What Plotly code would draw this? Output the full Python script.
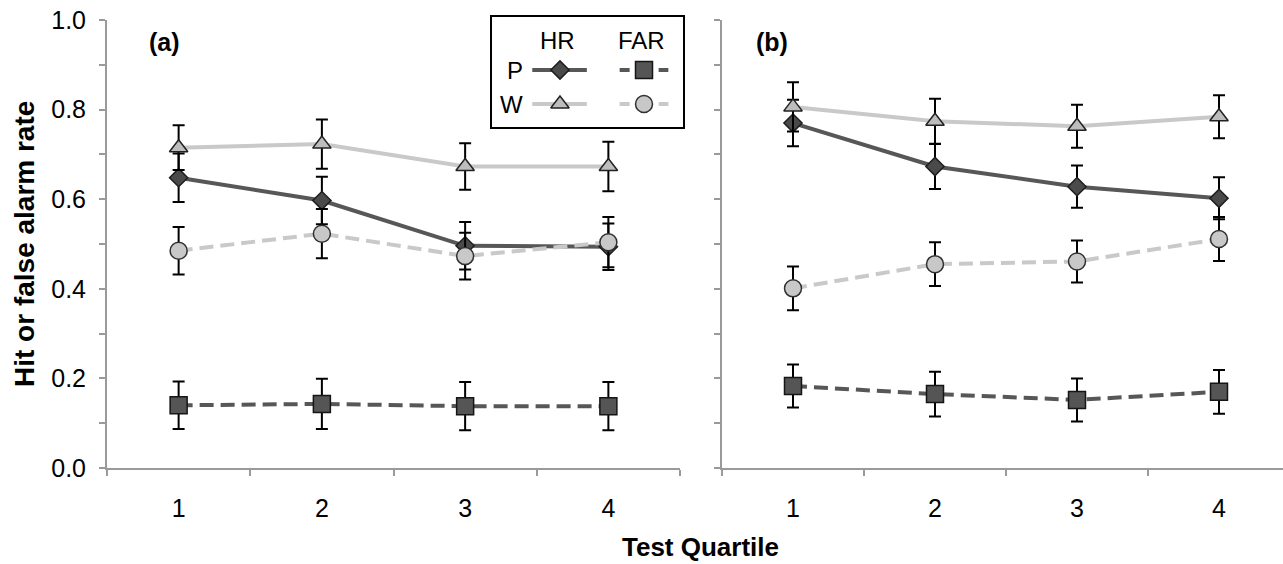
import plotly.graph_objects as go

# ---------------- data ----------------
quartiles = [1, 2, 3, 4]
tick_labels = ["1", "2", "3", "4"]

a_p_hr = [0.648, 0.597, 0.496, 0.494]
a_p_hr_err = [0.054, 0.053, 0.053, 0.052]
a_w_hr = [0.715, 0.723, 0.673, 0.673]
a_w_hr_err = [0.050, 0.055, 0.052, 0.055]
a_p_far = [0.140, 0.143, 0.138, 0.138]
a_p_far_err = [0.053, 0.056, 0.054, 0.054]
a_w_far = [0.485, 0.523, 0.473, 0.504]
a_w_far_err = [0.053, 0.055, 0.052, 0.056]

b_p_hr = [0.770, 0.673, 0.628, 0.602]
b_p_hr_err = [0.052, 0.050, 0.047, 0.047]
b_w_hr = [0.806, 0.774, 0.763, 0.784]
b_w_hr_err = [0.055, 0.050, 0.048, 0.048]
b_p_far = [0.183, 0.165, 0.152, 0.170]
b_p_far_err = [0.048, 0.050, 0.048, 0.049]
b_w_far = [0.401, 0.455, 0.461, 0.511]
b_w_far_err = [0.049, 0.049, 0.047, 0.049]

y_ticks = [0.0, 0.2, 0.4, 0.6, 0.8, 1.0]

# ---------------- styles ----------------
DARK_LINE = "#575757"
LIGHT_LINE = "#c9c9c9"
AXIS = "#9a9a9a"
FONT = "Liberation Sans, Arial, sans-serif"
DASH = "14px,7px"

styles = {
    "P_HR": dict(line=dict(color=DARK_LINE, width=4),
                 marker=dict(symbol="diamond", size=14, color="#4a4a4a",
                             line=dict(color="#1e1e1e", width=1.5))),
    "W_HR": dict(line=dict(color=LIGHT_LINE, width=4),
                 marker=dict(symbol="triangle-up", size=16, color="#bdbdbd",
                             line=dict(color="#222222", width=1.5))),
    "P_FAR": dict(line=dict(color=DARK_LINE, width=4, dash=DASH),
                  marker=dict(symbol="square", size=17, color="#555555",
                              line=dict(color="#151515", width=1.5))),
    "W_FAR": dict(line=dict(color=LIGHT_LINE, width=4, dash=DASH),
                  marker=dict(symbol="circle", size=17, color="#c8c8c8",
                              line=dict(color="#303030", width=1.5))),
}

panels = [
    ("x", "y", {"P_HR": (a_p_hr, a_p_hr_err), "W_HR": (a_w_hr, a_w_hr_err),
                "P_FAR": (a_p_far, a_p_far_err), "W_FAR": (a_w_far, a_w_far_err)}),
    ("x2", "y2", {"P_HR": (b_p_hr, b_p_hr_err), "W_HR": (b_w_hr, b_w_hr_err),
                  "P_FAR": (b_p_far, b_p_far_err), "W_FAR": (b_w_far, b_w_far_err)}),
]

fig = go.Figure()
for xa, ya, series in panels:
    for key in ["P_HR", "W_HR", "P_FAR", "W_FAR"]:
        vals, errs = series[key]
        st = styles[key]
        fig.add_trace(go.Scatter(
            x=quartiles, y=vals, xaxis=xa, yaxis=ya, mode="lines+markers",
            line=st["line"], marker=st["marker"], showlegend=False,
            error_y=dict(type="data", array=errs, color="black", thickness=2, width=6),
        ))

# ---------------- custom legend (P/W rows x HR/FAR columns) ----------------
legend_rows = ["P", "W"]
legend_cols = ["HR", "FAR"]
legend_keys = {"P_HR": (0, 0), "W_HR": (1, 0), "P_FAR": (0, 1), "W_FAR": (1, 1)}
for key, (r, c) in legend_keys.items():
    st = styles[key]
    fig.add_trace(go.Scatter(x=[c], y=[r], xaxis="x3", yaxis="y3", mode="markers",
                             marker=st["marker"], showlegend=False, hoverinfo="skip"))

W, H = 1283, 564
L, R, T, B = 107, 0, 20, 96
PW, PH = W - L - R, H - T - B


def px(xp):
    return (xp - L) / PW


def py(yp):
    return (H - B - yp) / PH


shapes = []
# legend box
shapes.append(dict(type="rect", xref="paper", yref="paper", x0=px(491), x1=px(684),
                   y0=py(128), y1=py(16), line=dict(color="black", width=2),
                   fillcolor="rgba(0,0,0,0)", layer="above"))
for key, (r, c) in legend_keys.items():
    st = styles[key]
    if c == 0:
        shapes.append(dict(type="line", xref="x3", yref="y3", x0=c - 0.33, x1=c + 0.32,
                           y0=r, y1=r, line=dict(color=st["line"]["color"], width=4),
                           layer="below"))
    else:
        shapes.append(dict(type="line", xref="x3", yref="y3", x0=c - 0.29, x1=c + 0.29,
                           y0=r, y1=r, line=dict(color=st["line"]["color"], width=4,
                                                 dash="10px,29px"),
                           layer="below"))

annotations = []
for c, lab in enumerate(legend_cols):
    annotations.append(dict(text=lab, x=c - 0.03, y=-0.86, xref="x3", yref="y3",
                            xanchor="center", yanchor="middle", showarrow=False,
                            font=dict(family=FONT, size=24, color="black")))
for r, lab in enumerate(legend_rows):
    annotations.append(dict(text=lab, x=-0.42, y=r, xref="x3", yref="y3", xanchor="right",
                            yanchor="middle", showarrow=False,
                            font=dict(family=FONT, size=24, color="black")))

annotations += [
    dict(text="<b>(a)</b>", x=px(164), y=py(42), xref="paper", yref="paper", showarrow=False,
         xanchor="center", yanchor="middle", font=dict(family=FONT, size=25, color="black")),
    dict(text="<b>(b)</b>", x=px(772), y=py(42), xref="paper", yref="paper", showarrow=False,
         xanchor="center", yanchor="middle", font=dict(family=FONT, size=25, color="black")),
    dict(text="<b>Test Quartile</b>", x=px(700), y=py(563), xref="paper", yref="paper",
         xanchor="center", yanchor="bottom", showarrow=False, borderpad=0,
         font=dict(family=FONT, size=26, color="black")),
    dict(text="<b>Hit or false alarm rate</b>", x=px(24), y=py(244), xref="paper",
         yref="paper", xanchor="center", yanchor="middle", showarrow=False, textangle=-90,
         font=dict(family=FONT, size=28, color="black")),
]

common_y = dict(range=[0, 1], showline=True, linecolor=AXIS, linewidth=2, ticks="outside",
                ticklen=6, tickcolor=AXIS, tickwidth=2, tickvals=y_ticks, tickformat=".1f",
                showgrid=False, zeroline=False,
                minor=dict(dtick=0.1, ticks="outside", ticklen=6, tickcolor=AXIS,
                           tickwidth=2, showgrid=False),
                tickfont=dict(family=FONT, size=25, color="black"), ticklabelstandoff=8)
common_x = dict(showline=True, linecolor=AXIS, linewidth=2, ticks="", tickvals=quartiles,
                ticktext=tick_labels, showgrid=False, zeroline=False,
                minor=dict(tickvals=[0.5, 1.5, 2.5, 3.5, 4.5], ticks="outside", ticklen=6,
                           tickcolor=AXIS, tickwidth=2, showgrid=False),
                tickfont=dict(family=FONT, size=25, color="black"), ticklabelstandoff=17)

fig.update_layout(
    width=W, height=H, margin=dict(l=L, r=R, t=T, b=B),
    paper_bgcolor="white", plot_bgcolor="white", showlegend=False,
    xaxis=dict(domain=[0, px(680)], range=[0.5, 4.5], anchor="y", **common_x),
    xaxis2=dict(domain=[px(722), 1], range=[0.5, 0.5 + 561 / 142], anchor="y2", **common_x),
    yaxis=dict(anchor="x", domain=[0, 1], **common_y),
    yaxis2=dict(anchor="x2", domain=[0, 1], showticklabels=False,
                **{k: v for k, v in common_y.items() if k not in ("tickfont", "ticklabelstandoff")}),
    xaxis3=dict(domain=[px(491), px(684)], range=[-0.821, 1.476], visible=False,
                anchor="y3", fixedrange=True),
    yaxis3=dict(domain=[py(128), 1], range=[1.706, -1.471], visible=False,
                anchor="x3", fixedrange=True),
    shapes=shapes, annotations=annotations,
)

fig.write_html("out.html")
